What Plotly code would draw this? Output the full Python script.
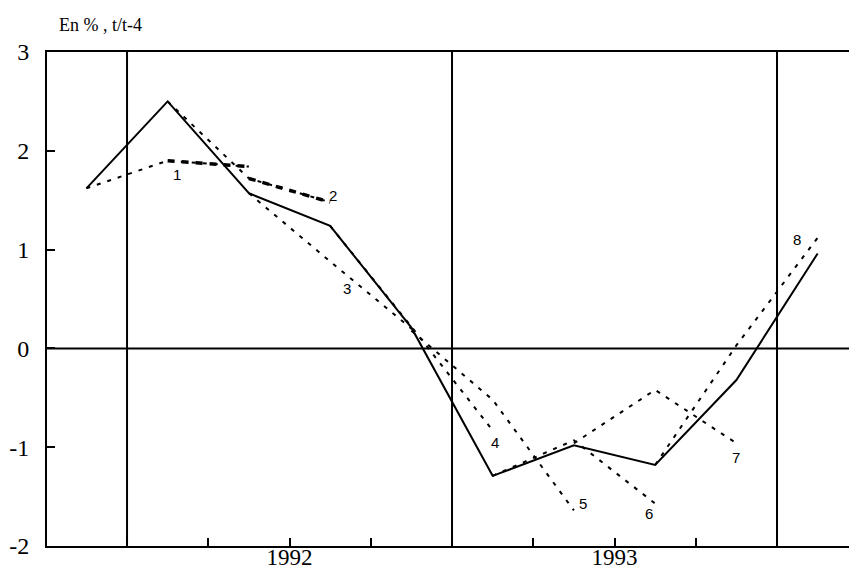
import plotly.graph_objects as go

# quarters: 0 = 1991T4 ... 9 = 1994T1
quarters = list(range(10))
actual = [1.62, 2.5, 1.57, 1.24, 0.21, -1.29, -0.98, -1.18, -0.32, 0.96]

# successive forecasts (start quarter, values)
fc_start = [0, 1, 2, 3, 4, 5, 6, 7]
fc_values = [
    [1.62, 1.90, 1.84],
    [2.50, 1.72, 1.48],
    [1.57, 0.88, 0.20],
    [1.24, 0.22, -0.83],
    [0.18, -0.52, -1.64],
    [-1.29, -0.93, -1.57],
    [-0.96, -0.42, -0.96],
    [-1.18, 0.03, 1.12],
]
fc_names = ["1", "2", "3", "4", "5", "6", "7", "8"]

year_ticks = [0.5, 1.5, 2.5, 3.5, 4.5, 5.5, 6.5, 7.5, 8.5]
year_text = ["", "", "1992", "", "", "", "1993", "", ""]
year_bounds = [0.5, 4.5, 8.5]
y_ticks = [-2, -1, 0, 1, 2, 3]
y_text = ["-2", "-1", "0", "1", "2", "3"]

# where the forecast numbers sit
label_pos = [(1.12, 1.76), (3.03, 1.55), (3.21, 0.61), (5.03, -0.95),
             (6.11, -1.57), (6.92, -1.67), (8.0, -1.10), (8.75, 1.10)]

fig = go.Figure()

for s, vals in zip(fc_start, fc_values):
    xs = [s + k for k in range(len(vals))]
    fig.add_trace(go.Scatter(x=xs, y=vals, mode="lines",
                             line=dict(color="black", width=2, dash="4px,7px")))

# thicker dashes on the second half of forecasts 1 and 2
for s, vals in zip(fc_start[:2], fc_values[:2]):
    xs = [s + k for k in range(1, len(vals))]
    fig.add_trace(go.Scatter(x=xs, y=vals[1:], mode="lines",
                             line=dict(color="black", width=3.5, dash="7px,7px")))

fig.add_trace(go.Scatter(x=quarters, y=actual, mode="lines",
                         line=dict(color="black", width=2)))

for xb in year_bounds:
    fig.add_vline(x=xb, line=dict(color="black", width=2))
fig.add_hline(y=0, line=dict(color="black", width=2))

for name, (lx, ly) in zip(fc_names, label_pos):
    fig.add_annotation(x=lx, y=ly, text=name, showarrow=False,
                       font=dict(family="Liberation Sans", size=15, color="black"))

fig.add_annotation(x=0.0125, y=1.0547, xref="paper", yref="paper",
                   text="En % , t/t-4", showarrow=False,
                   xanchor="left", yanchor="middle",
                   font=dict(family="Liberation Serif", size=18, color="black"))

fig.update_xaxes(range=[-0.485, 9.386], showgrid=False, zeroline=False,
                 showline=True, linecolor="black", linewidth=2, mirror=True,
                 tickmode="array", tickvals=year_ticks, ticktext=year_text,
                 ticks="inside", ticklen=8, tickwidth=1.5, tickcolor="black",
                 ticklabelstandoff=-11, automargin=False,
                 tickfont=dict(family="Liberation Serif", size=23, color="black"))
fig.update_yaxes(range=[-2, 3], showgrid=False, zeroline=False,
                 showline=True, linecolor="black", linewidth=2,
                 tickmode="array", tickvals=y_ticks, ticktext=y_text,
                 ticks="inside", ticklen=8, tickwidth=1.5, tickcolor="black",
                 ticklabelstandoff=11, automargin=False,
                 tickfont=dict(family="Liberation Serif", size=24, color="black"))

fig.update_layout(width=849, height=570, showlegend=False,
                  plot_bgcolor="white", paper_bgcolor="white",
                  margin={"l": 47, "r": 0, "t": 52, "b": 24})

# drop the default body margin so the figure fills the window exactly
fig.write_html("out.html", config={"displayModeBar": False},
               post_script="document.body.style.margin='0';"
                           "document.body.style.overflow='hidden';")
